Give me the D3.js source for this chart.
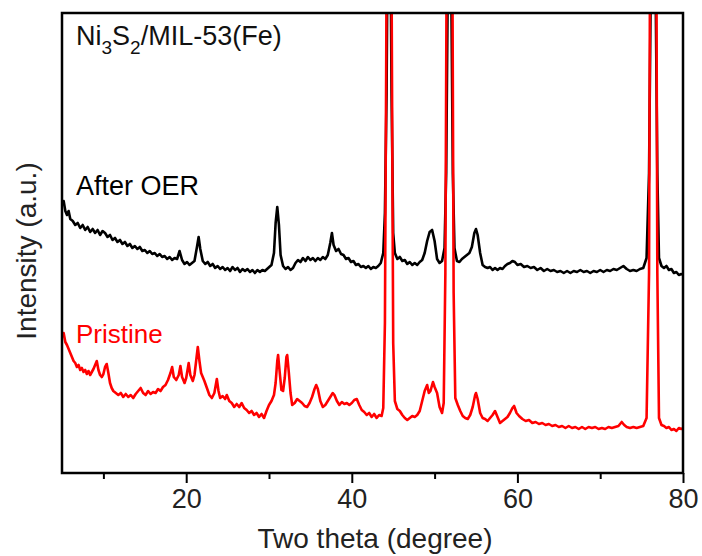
<!DOCTYPE html>
<html>
<head>
<meta charset="utf-8">
<script src="https://cdn.jsdelivr.net/npm/d3@7"></script>
<style>
  html, body { margin: 0; padding: 0; background: #fff; }
  svg text { font-family: "Liberation Sans", Arial, sans-serif; }
</style>
</head>
<body>
<svg id="chart" width="702" height="556"></svg>
<script>
// ---------------- DATA ----------------
const xTicksMajor = [20, 40, 60, 80];
const xTicksMinor = [10, 30, 50, 70];
const xDomain = [5, 80];
const yDomain = [0, 460];

const seriesNames = ["After OER", "Pristine"];
const seriesColors = ["#000000", "#ff0000"];
const titleMain = ["Ni", "3", "S", "2", "/MIL-53(Fe)"];
const xLabel = "Two theta (degree)";
const yLabel = "Intensity (a.u.)";

// After OER: [2theta, intensity]
const afterOER = [
[5.0,268],[5.2,272],[5.4,262],[5.6,258],[5.8,262],[6.0,254],[6.3,252],[6.6,248],[6.9,250],[7.2,245],
[7.5,248],[7.8,243],[8.1,246],[8.4,241],[8.7,244],[9.0,240],[9.3,243],[9.6,238],[9.9,242],[10.2,240],
[10.5,236],[10.8,238],[11.1,233],[11.4,235],[11.7,231],[12.0,233],[12.3,229],[12.6,231],[12.9,227],[13.2,229],
[13.5,225],[13.8,227],[14.1,224],[14.4,226],[14.7,222],[15.0,223],[15.3,220],[15.6,222],[15.9,219],[16.2,220],
[16.5,217],[16.8,219],[17.1,216],[17.4,217],[17.7,214],[18.0,216],[18.3,213],[18.6,215],[18.9,214],[19.2,222],
[19.5,213],[19.8,209],[20.1,211],[20.4,208],[20.7,210],[21.0,212],[21.3,226],[21.5,236],[21.7,224],[22.0,212],
[22.3,209],[22.6,211],[22.9,207],[23.2,209],[23.5,205],[23.8,207],[24.1,204],[24.4,206],[24.7,203],[25.0,205],
[25.3,202],[25.6,206],[25.9,203],[26.2,205],[26.5,201],[26.8,204],[27.1,202],[27.4,204],[27.7,201],[28.0,203],
[28.3,200],[28.6,203],[28.9,201],[29.2,203],[29.5,202],[29.9,205],[30.3,208],[30.6,220],[30.8,250],[31.0,266],
[31.2,248],[31.4,218],[31.7,207],[32.0,204],[32.3,206],[32.6,203],[32.9,205],[33.2,210],[33.5,213],[33.8,211],
[34.1,215],[34.4,212],[34.7,216],[35.0,213],[35.3,215],[35.6,212],[35.9,215],[36.2,213],[36.5,216],[36.8,214],
[37.1,218],[37.4,230],[37.6,240],[37.8,228],[38.1,222],[38.4,224],[38.7,219],[39.0,218],[39.3,214],[39.6,215],
[39.9,211],[40.2,212],[40.5,208],[40.8,209],[41.1,206],[41.4,207],[41.7,205],[42.0,207],[42.3,204],[42.6,206],
[42.9,205],[43.2,207],[43.5,210],[43.8,220],[44.0,260],[44.2,380],[44.35,560],[44.5,620],[44.65,560],[44.8,380],
[45.0,240],[45.2,220],[45.5,214],[45.8,216],[46.1,212],[46.4,213],[46.7,209],[47.0,211],[47.3,208],[47.6,210],
[47.9,208],[48.2,211],[48.5,213],[48.8,220],[49.1,232],[49.4,241],[49.7,243],[50.0,232],[50.3,214],[50.6,210],
[50.9,212],[51.2,225],[51.4,300],[51.6,500],[51.8,620],[52.0,500],[52.2,300],[52.4,225],[52.7,212],[53.0,211],
[53.3,214],[53.6,216],[53.9,218],[54.2,220],[54.5,226],[54.8,240],[55.0,244],[55.2,238],[55.5,220],[55.8,208],
[56.1,206],[56.4,205],[56.7,206],[57.0,203],[57.3,205],[57.6,203],[57.9,205],[58.2,204],[58.5,207],[58.8,209],
[59.1,210],[59.4,212],[59.7,211],[60.0,208],[60.4,209],[60.8,206],[61.2,207],[61.6,205],[62.0,206],[62.4,203],
[62.8,205],[63.2,202],[63.6,204],[64.0,202],[64.4,203],[64.8,201],[65.2,202],[65.6,200],[66.0,202],[66.4,200],
[66.8,202],[67.2,201],[67.6,203],[68.0,201],[68.4,202],[68.8,200],[69.2,202],[69.6,201],[70.0,203],[70.4,201],
[70.8,203],[71.2,202],[71.6,204],[72.0,203],[72.4,205],[72.8,207],[73.2,204],[73.6,202],[74.0,203],[74.4,202],
[74.8,204],[75.2,205],[75.6,215],[75.9,300],[76.1,480],[76.3,620],[76.5,620],[76.7,480],[76.9,300],[77.1,215],
[77.4,207],[77.7,205],[78.0,207],[78.3,203],[78.6,204],[78.9,200],[79.2,201],[79.5,198],[79.8,199],[80.0,198]
];

// Pristine: [2theta, intensity]
const pristine = [
[5.0,136],[5.2,140],[5.4,131],[5.6,128],[5.8,124],[6.0,120],[6.2,116],[6.4,112],[6.6,110],[6.8,106],
[7.0,108],[7.2,103],[7.4,105],[7.6,101],[7.8,103],[8.0,99],[8.2,102],[8.4,98],[8.6,101],[8.8,104],
[9.0,108],[9.2,112],[9.4,103],[9.6,98],[9.8,96],[10.0,99],[10.2,106],[10.4,109],[10.6,100],[10.8,90],
[11.0,85],[11.2,82],[11.5,80],[11.8,78],[12.1,80],[12.4,76],[12.7,79],[13.0,76],[13.3,78],[13.6,75],
[13.9,79],[14.2,82],[14.5,85],[14.8,80],[15.1,78],[15.4,82],[15.7,79],[16.0,81],[16.3,80],[16.6,84],
[16.9,82],[17.2,86],[17.5,88],[17.8,93],[18.1,100],[18.3,106],[18.5,96],[18.8,93],[19.1,98],[19.3,107],
[19.5,96],[19.8,90],[20.0,95],[20.3,110],[20.5,98],[20.8,92],[21.0,98],[21.2,112],[21.4,126],[21.6,112],
[21.8,100],[22.0,96],[22.2,92],[22.5,85],[22.8,78],[23.1,75],[23.4,80],[23.7,94],[23.9,82],[24.1,75],
[24.4,77],[24.7,74],[24.9,78],[25.2,72],[25.5,70],[25.8,66],[26.1,69],[26.4,66],[26.7,70],[27.0,65],
[27.3,63],[27.6,60],[27.9,62],[28.2,58],[28.5,60],[28.8,56],[29.1,59],[29.4,55],[29.7,62],[30.0,68],
[30.3,72],[30.6,78],[30.8,90],[31.0,112],[31.1,118],[31.3,100],[31.5,83],[31.7,82],[31.9,95],[32.1,116],
[32.2,118],[32.4,100],[32.6,80],[32.8,68],[33.1,70],[33.4,74],[33.7,72],[34.0,70],[34.3,67],[34.6,66],
[34.9,70],[35.2,76],[35.5,84],[35.7,88],[35.9,84],[36.2,72],[36.5,66],[36.8,68],[37.1,72],[37.4,76],
[37.7,80],[37.9,78],[38.2,72],[38.5,68],[38.8,71],[39.1,69],[39.4,70],[39.7,68],[40.0,70],[40.3,73],
[40.6,74],[40.9,68],[41.2,63],[41.5,61],[41.8,58],[42.1,60],[42.4,56],[42.7,59],[43.0,55],[43.3,58],
[43.6,57],[43.8,65],[44.0,150],[44.15,400],[44.3,700],[44.5,800],[44.7,700],[44.85,400],[45.0,130],[45.2,72],
[45.5,64],[45.8,62],[46.1,58],[46.4,55],[46.7,53],[47.0,55],[47.3,57],[47.6,56],[47.9,58],[48.2,62],
[48.5,72],[48.8,82],[49.1,88],[49.3,80],[49.5,82],[49.8,91],[50.0,86],[50.3,80],[50.6,66],[50.9,60],
[51.1,70],[51.3,200],[51.45,500],[51.65,800],[51.95,800],[52.15,500],[52.3,180],[52.5,75],[52.8,68],[53.1,62],
[53.4,57],[53.7,55],[54.0,54],[54.3,58],[54.6,66],[54.9,78],[55.0,80],[55.2,74],[55.5,60],[55.8,55],
[56.1,54],[56.4,52],[56.7,55],[57.0,58],[57.3,62],[57.6,56],[57.9,50],[58.2,52],[58.5,54],[58.8,56],
[59.1,60],[59.4,65],[59.6,67],[59.9,60],[60.2,57],[60.6,54],[61.0,52],[61.4,53],[61.8,50],[62.2,51],
[62.6,49],[63.0,50],[63.4,48],[63.8,49],[64.2,47],[64.6,48],[65.0,46],[65.4,47],[65.8,45],[66.2,47],
[66.6,45],[67.0,46],[67.4,44],[67.8,46],[68.2,44],[68.6,46],[69.0,45],[69.4,46],[69.8,44],[70.2,45],
[70.6,44],[71.0,46],[71.4,45],[71.8,46],[72.2,47],[72.6,51],[72.9,48],[73.2,46],[73.6,45],[74.0,46],
[74.4,45],[74.8,46],[75.2,47],[75.6,55],[75.9,200],[76.05,600],[76.25,800],[76.55,800],[76.75,600],[76.9,200],
[77.1,55],[77.4,48],[77.7,47],[78.0,45],[78.3,46],[78.6,43],[78.9,44],[79.2,42],[79.5,45],[79.8,44],[80.0,45]
];

// ---------------- CHART ----------------
const svg = d3.select("#chart");
const L = 62, R = 683, T = 13, B = 473;

const x = d3.scaleLinear().domain(xDomain).range([L, R]);
const y = d3.scaleLinear().domain(yDomain).range([B, T]);

svg.append("defs").append("clipPath").attr("id", "plotclip")
  .append("rect").attr("x", L).attr("y", T).attr("width", R - L).attr("height", B - T);

const line = d3.line().x(d => x(d[0])).y(d => y(d[1]));

const plot = svg.append("g").attr("clip-path", "url(#plotclip)");
[afterOER, pristine].forEach((s, i) => {
  plot.append("path").datum(s)
    .attr("d", line)
    .attr("fill", "none")
    .attr("stroke", seriesColors[i])
    .attr("stroke-width", 2.6)
    .attr("stroke-linejoin", "round");
});

// Axes
const axMajor = svg.append("g").attr("transform", `translate(0,${B})`)
  .call(d3.axisBottom(x).tickValues(xTicksMajor).tickSize(10).tickPadding(6).tickFormat(d3.format("d")));
const axMinor = svg.append("g").attr("transform", `translate(0,${B})`)
  .call(d3.axisBottom(x).tickValues(xTicksMinor).tickSize(6).tickFormat(""));
[axMajor, axMinor].forEach(g => {
  g.select(".domain").remove();
  g.selectAll(".tick line").attr("stroke", "#000").attr("stroke-width", 2);
});
axMajor.selectAll(".tick text")
  .attr("font-family", "'Liberation Sans', Arial, sans-serif")
  .attr("font-size", 27).attr("fill", "#222");

// Frame
svg.append("rect").attr("x", L).attr("y", T).attr("width", R - L).attr("height", B - T)
  .attr("fill", "none").attr("stroke", "#000").attr("stroke-width", 2.5);

// Axis labels
svg.append("text").attr("x", 375).attr("y", 548)
  .attr("text-anchor", "middle").attr("font-size", 28).attr("fill", "#222").text(xLabel);
svg.append("text").attr("transform", "translate(36,251) rotate(-90)")
  .attr("text-anchor", "middle").attr("font-size", 28).attr("fill", "#222").text(yLabel);

// Title with subscripts
const t = svg.append("text").attr("x", 76).attr("y", 45).attr("font-size", 27).attr("fill", "#111");
titleMain.forEach((part, i) => {
  const sub = (i === 1 || i === 3);
  const ts = t.append("tspan").text(part);
  if (sub) ts.attr("font-size", 19).attr("dy", 9);
  else if (i > 0) ts.attr("dy", -9);
});

// Series labels
svg.append("text").attr("x", 76).attr("y", 195).attr("font-size", 27).attr("fill", seriesColors[0]).text(seriesNames[0]);
svg.append("text").attr("x", 76).attr("y", 343).attr("font-size", 26).attr("fill", seriesColors[1]).text(seriesNames[1]);
</script>
</body>
</html>
